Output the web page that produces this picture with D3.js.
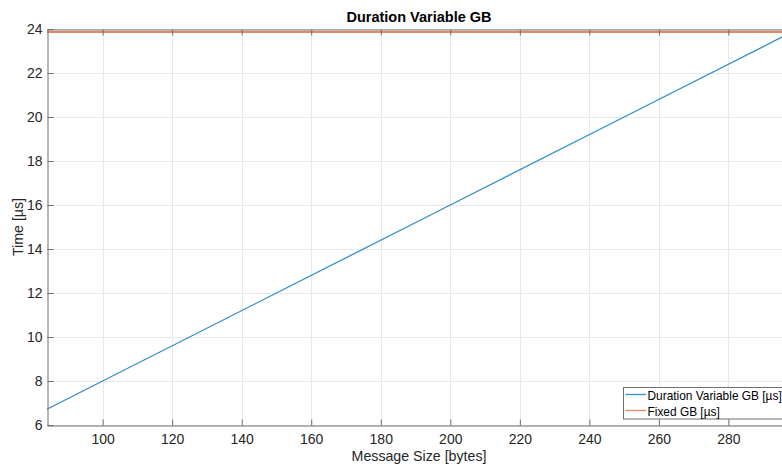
<!DOCTYPE html>
<html>
<head>
<meta charset="utf-8">
<script src="https://cdn.jsdelivr.net/npm/d3@7"></script>
<style>
  html, body { margin: 0; padding: 0; background: #fff; overflow: hidden; }
  svg { display: block; font-family: "Liberation Sans", Arial, sans-serif; }
</style>
</head>
<body>
<svg id="chart" width="782" height="466"></svg>
<script>
// Message size in bytes and the resulting transmission duration
const messageSizes = [84, 100, 150, 200, 250, 298];
const durationVariableGB = [6.72, 8.0, 12.0, 16.0, 20.0, 23.84];
// Fixed guard band duration, constant over message size
const fixedGB = [23.86, 23.86, 23.86, 23.86, 23.86, 23.86];

const xTicks = [100, 120, 140, 160, 180, 200, 220, 240, 260, 280];
const yTicks = [6, 8, 10, 12, 14, 16, 18, 20, 22, 24];

const seriesNames = ["Duration Variable GB [\u00b5s]", "Fixed GB [\u00b5s]"];
const seriesColors = ["#0072BD", "#D95319"];

const svg = d3.select("#chart");
const plotLeft = 47, plotTop = 29, plotRight = 791, plotBottom = 425;

const x = d3.scaleLinear().domain([84, 298]).range([plotLeft, plotRight]);
const y = d3.scaleLinear().domain([6, 24]).range([plotBottom, plotTop]);

const textColor = "#262626";
const axisColor = "#6e6e6e";

// grid
const grid = svg.append("g");
grid.selectAll("line.vx").data(xTicks).enter().append("line")
  .attr("x1", d => Math.round(x(d)) + 0.5).attr("x2", d => Math.round(x(d)) + 0.5)
  .attr("y1", plotTop).attr("y2", plotBottom)
  .attr("stroke", "#e8e8e8").attr("stroke-width", 1);
grid.selectAll("line.hy").data(yTicks).enter().append("line")
  .attr("y1", d => Math.round(y(d)) + 0.5).attr("y2", d => Math.round(y(d)) + 0.5)
  .attr("x1", plotLeft).attr("x2", plotRight)
  .attr("stroke", "#e8e8e8").attr("stroke-width", 1);

// data lines
const line = d3.line().x(d => x(d[0])).y(d => y(d[1]));
svg.append("clipPath").attr("id", "plotclip")
  .append("rect").attr("x", plotLeft).attr("y", plotTop - 2)
  .attr("width", plotRight - plotLeft).attr("height", plotBottom - plotTop + 2);
const plot = svg.append("g").attr("clip-path", "url(#plotclip)");
plot.append("path")
  .datum(messageSizes.map((s, i) => [s, fixedGB[i]]))
  .attr("d", line).attr("fill", "none")
  .attr("stroke", seriesColors[1]).attr("stroke-opacity", 0.7).attr("stroke-width", 2);
plot.append("path")
  .datum(messageSizes.map((s, i) => [s, durationVariableGB[i]]))
  .attr("d", line).attr("fill", "none")
  .attr("stroke", seriesColors[0]).attr("stroke-opacity", 0.8).attr("stroke-width", 1.3);

// axes (ticks pointing inward, box on)
const xAxisB = d3.axisBottom(x).tickValues(xTicks).tickSize(-6).tickPadding(9).tickSizeOuter(0);
const xAxisT = d3.axisTop(x).tickValues(xTicks).tickSize(-6).tickFormat("").tickSizeOuter(0);
const yAxisL = d3.axisLeft(y).tickValues(yTicks).tickSize(-6).tickPadding(5).tickSizeOuter(0);

function styleAxis(g) {
  g.select(".domain").attr("stroke", axisColor);
  g.selectAll(".tick line").attr("stroke", axisColor);
  g.selectAll(".tick text").attr("fill", textColor)
    .style("font-size", "14px").style("font-family", "'Liberation Sans', Arial, sans-serif");
}
svg.append("g").attr("transform", `translate(0,${plotBottom + 0.5})`).call(xAxisB).call(styleAxis);
svg.append("g").attr("transform", `translate(0,${plotTop + 0.5})`).call(xAxisT).call(styleAxis);
svg.append("g").attr("transform", `translate(${plotLeft + 0.5},0)`).call(yAxisL).call(styleAxis);

// title and axis labels
svg.append("text").attr("x", (plotLeft + plotRight) / 2).attr("y", 22)
  .attr("text-anchor", "middle").attr("font-weight", "bold")
  .attr("font-size", "14.5px").attr("fill", "#000").text("Duration Variable GB");
svg.append("text").attr("x", (plotLeft + plotRight) / 2).attr("y", 461)
  .attr("text-anchor", "middle").attr("font-size", "14.2px").attr("fill", textColor)
  .text("Message Size [bytes]");
svg.append("text").attr("transform", `translate(23,${(plotTop + plotBottom) / 2}) rotate(-90)`)
  .attr("text-anchor", "middle").attr("font-size", "14.2px").attr("fill", textColor)
  .text("Time [\u00b5s]");

// legend
const lg = svg.append("g").attr("transform", "translate(623.5,387.5)");
lg.append("rect").attr("width", 164).attr("height", 31.5)
  .attr("fill", "#fff").attr("stroke", "#6e6e6e").attr("stroke-width", 1);
seriesNames.forEach((name, i) => {
  const yy = 7 + i * 16;
  lg.append("line").attr("x1", 2).attr("x2", 22.5).attr("y1", yy).attr("y2", yy)
    .attr("stroke", seriesColors[i]).attr("stroke-opacity", i === 0 ? 0.8 : 0.7)
    .attr("stroke-width", 1.3);
  lg.append("text").attr("x", 24).attr("y", yy + 5.5)
    .attr("font-size", "11.9px").attr("fill", "#000").text(name);
});
</script>
</body>
</html>
